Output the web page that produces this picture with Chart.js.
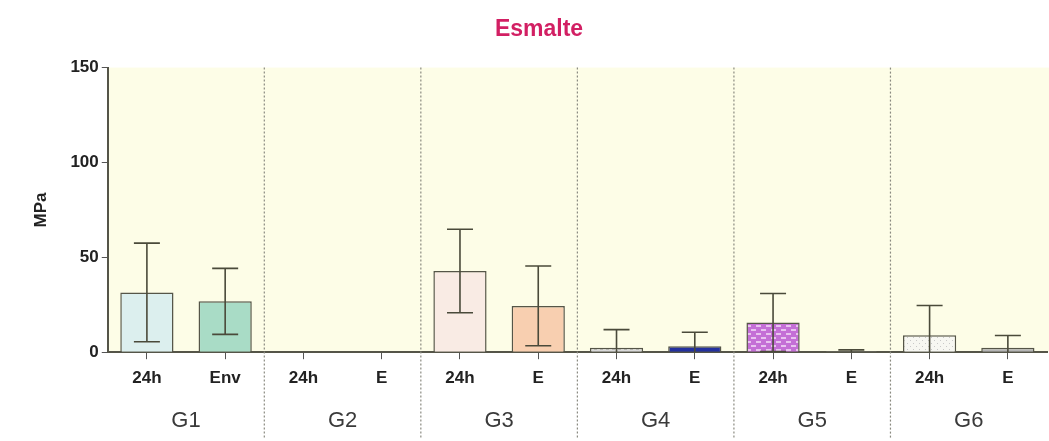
<!DOCTYPE html>
<html>
<head>
<meta charset="utf-8">
<script src="https://cdn.jsdelivr.net/npm/chart.js@4/dist/chart.umd.min.js"></script>
<style>
  html, body { margin: 0; padding: 0; background: #fff; }
  #wrap { width: 1049px; height: 441px; }
</style>
</head>
<body>
<div id="wrap"><canvas id="c"></canvas></div>
<script>
// data
let labels = ['24h', 'Env', '24h', 'E', '24h', 'E', '24h', 'E', '24h', 'E', '24h', 'E'];
let groups = ['G1', 'G2', 'G3', 'G4', 'G5', 'G6'];
let means  = [31.5, 26.8, 0, 0, 42.8, 24.4, 2.3, 3.1, 15.6, 0.6, 8.9, 2.3];
let sds    = [26.0, 17.4, 0, 0, 22.0, 21.0, 9.6, 7.4, 15.3, 0.6, 15.7, 6.5];
let yTicks = [0, 50, 100, 150];

function pattern(kind) {
  let p = document.createElement('canvas');
  let g = p.getContext('2d');
  if (kind === 'brick') {
    p.width = 10; p.height = 8;
    g.fillStyle = '#c46fd6'; g.fillRect(0, 0, 10, 8);
    g.strokeStyle = '#f4e0f8'; g.lineWidth = 1.4;
    g.beginPath(); g.moveTo(1, 2); g.lineTo(6, 2); g.moveTo(6, 6); g.lineTo(10, 6); g.moveTo(0, 6); g.lineTo(1, 6); g.stroke();
  } else if (kind === 'dots') {
    p.width = 6; p.height = 6;
    g.fillStyle = '#f7f7f2'; g.fillRect(0, 0, 6, 6);
    g.fillStyle = '#c8c8c8'; g.fillRect(1, 1, 1, 1); g.fillRect(4, 4, 1, 1);
  } else {
    p.width = 6; p.height = 4;
    g.fillStyle = '#d9d9d9'; g.fillRect(0, 0, 6, 4);
    g.fillStyle = '#aaaaaa'; g.fillRect(0, 1, 3, 1);
  }
  return document.getElementById('c').getContext('2d').createPattern(p, 'repeat');
}

let fills = ['#dcefee', '#a9dcc6', '#fff', '#fff', '#f9ebe4', '#f8cfb0',
  pattern('hatch'), '#23309e', pattern('brick'), '#9a9a9a', pattern('dots'), '#b5b5b5'];

let plotBg = {
  id: 'plotBg',
  beforeDraw(chart) {
    let a = chart.chartArea, ctx = chart.ctx;
    ctx.save();
    ctx.fillStyle = '#fdfde7';
    ctx.fillRect(a.left, a.top, chart.width - a.left, a.bottom - a.top);
    ctx.restore();
  }
};

let extras = {
  id: 'extras',
  afterDatasetsDraw(chart) {
    let ctx = chart.ctx, x = chart.scales.x, y = chart.scales.y, a = chart.chartArea;
    ctx.save();
    // error bars
    ctx.strokeStyle = '#4a4a3a';
    ctx.lineWidth = 1.6;
    means.forEach((m, i) => {
      if (!m) return;
      let px = x.getPixelForValue(i);
      let top = y.getPixelForValue(m + sds[i]);
      let bot = Math.min(y.getPixelForValue(m - sds[i]), a.bottom);
      ctx.beginPath();
      ctx.moveTo(px, top); ctx.lineTo(px, bot);
      ctx.moveTo(px - 13, top); ctx.lineTo(px + 13, top);
      if (m - sds[i] > 0) { ctx.moveTo(px - 13, bot); ctx.lineTo(px + 13, bot); }
      ctx.stroke();
    });
    // dotted group separators
    ctx.strokeStyle = '#8a8a80';
    ctx.lineWidth = 1.2;
    ctx.setLineDash([2, 2]);
    for (let i = 1; i < groups.length; i++) {
      let px = (x.getPixelForValue(2 * i - 1) + x.getPixelForValue(2 * i)) / 2;
      ctx.beginPath();
      ctx.moveTo(px, a.top); ctx.lineTo(px, chart.height - 2);
      ctx.stroke();
    }
    ctx.restore();
  }
};

new Chart(document.getElementById('c'), {
  type: 'bar',
  data: {
    labels: labels,
    datasets: [{
      data: means,
      backgroundColor: fills,
      borderColor: '#555548',
      borderWidth: 1.5,
      borderSkipped: 'bottom',
      barPercentage: 0.68,
      categoryPercentage: 1
    }]
  },
  plugins: [plotBg, extras],
  options: {
    responsive: true,
    maintainAspectRatio: false,
    animation: false,
    layout: { padding: { top: 4, right: 2, left: 31, bottom: 5 } },
    plugins: {
      legend: { display: false },
      tooltip: { enabled: false },
      title: {
        display: true,
        text: 'Esmalte',
        color: '#d21f63',
        font: { family: 'Liberation Sans', size: 23, weight: 'bold' },
        padding: { top: 12, bottom: 24 }
      }
    },
    scales: {
      x: {
        offset: true,
        grid: { display: true, drawOnChartArea: false, tickLength: 7, color: '#555', offset: false },
        border: { display: true, color: '#555548', width: 2 },
        ticks: {
          color: '#222',
          padding: 9,
          font: { family: 'Liberation Sans', size: 17, weight: 'bold' },
          maxRotation: 0, autoSkip: false
        }
      },
      x2: {
        type: 'category',
        labels: groups,
        position: 'bottom',
        offset: true,
        grid: { display: false },
        border: { display: false },
        ticks: {
          color: '#3a3a3a',
          padding: 2,
          font: { family: 'Liberation Sans', size: 22 }
        }
      },
      y: {
        min: 0,
        max: 150,
        afterBuildTicks(s) { s.ticks = yTicks.map(v => ({ value: v })); },
        grid: { display: true, drawOnChartArea: false, tickLength: 6, color: '#555' },
        border: { display: true, color: '#555548', width: 2 },
        ticks: {
          color: '#222',
          padding: 3,
          font: { family: 'Liberation Sans', size: 17, weight: 'bold' }
        },
        title: {
          display: true,
          text: 'MPa',
          color: '#222',
          padding: { top: 0, bottom: 16 },
          font: { family: 'Liberation Sans', size: 17, weight: 'bold' }
        }
      }
    }
  }
});
</script>
</body>
</html>
